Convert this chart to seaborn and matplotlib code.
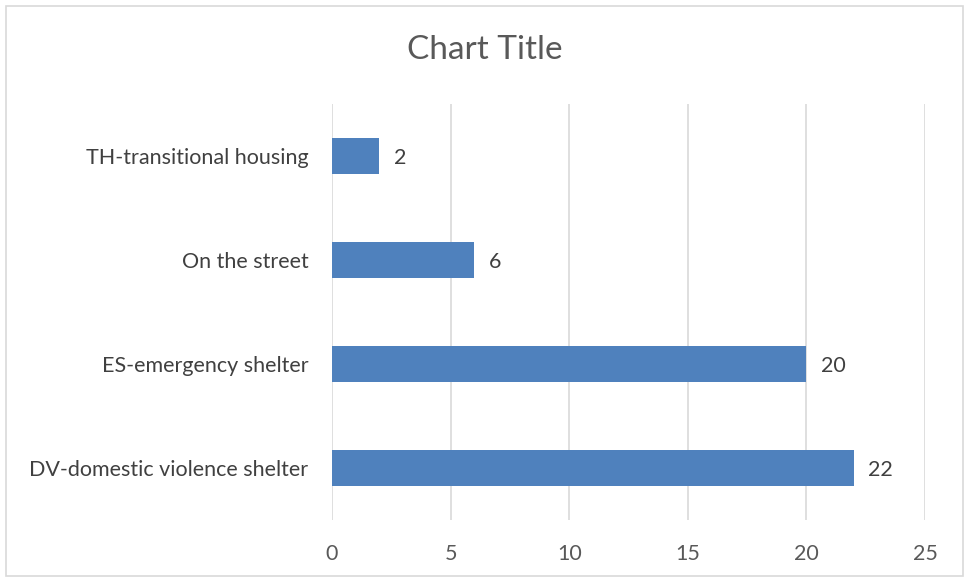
import matplotlib
matplotlib.use("Agg")
import matplotlib.pyplot as plt
import seaborn as sns
import pandas as pd
from matplotlib.patches import Rectangle

categories = ["TH-transitional housing", "On the street", "ES-emergency shelter", "DV-domestic violence shelter"]
values = [2, 6, 20, 22]
xticks = [0, 5, 10, 15, 20, 25]
title = "Chart Title"

sns.set_theme(style="white")
plt.rcParams['font.family'] = ['Lato', 'DejaVu Sans']

df = pd.DataFrame({"category": categories, "value": values})

fig = plt.figure(figsize=(9.69, 5.82), dpi=100)
ax = fig.add_axes([0.3426, 0.1065, 0.9546 - 0.3426, 0.8213 - 0.1065])

sns.barplot(data=df, y="category", x="value", order=categories, color="#4F81BD",
            saturation=1, width=0.35, linewidth=0, ax=ax)

ax.set_xlim(0, 25)
ax.set_ylim(3.5, -0.5)
ax.set_xticks(xticks)
ax.set_xticklabels([str(t) for t in xticks])
ax.grid(axis="x", color="#D9D9D9", linewidth=1.2)
ax.set_axisbelow(True)
for s in ax.spines.values():
    s.set_visible(False)
ax.tick_params(axis="both", length=0, labelsize=15.5, colors="#595959")
ax.tick_params(axis="x", pad=17)
ax.tick_params(axis="y", pad=17)
for lbl in ax.get_yticklabels():
    lbl.set_color("#404040")
ax.set_xlabel("")
ax.set_ylabel("")

for i, v in enumerate(values):
    ax.text(v + 0.6, i + 0.02, str(v), va="center", ha="left", fontsize=15.5, color="#404040")

fig.text(0.5, 1 - 50 / 582, title, ha="center", va="center", fontsize=24, color="#595959")

fig.patches.append(Rectangle((6 / 969, 6 / 582), 957 / 969, 570 / 582, transform=fig.transFigure,
                             fill=False, edgecolor="#D9D9D9", linewidth=1.2))

fig.savefig("out.png", dpi=100, facecolor="white")
